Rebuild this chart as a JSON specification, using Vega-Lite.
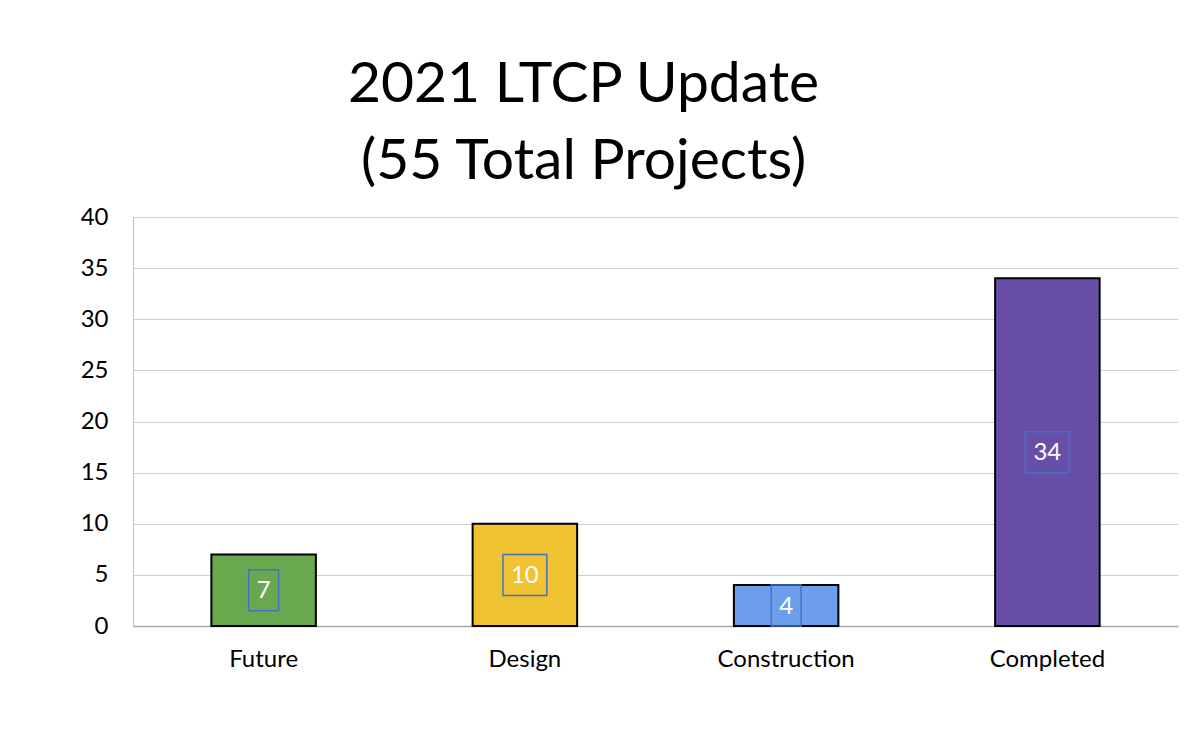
{
  "$schema": "https://vega.github.io/schema/vega-lite/v6.json",
  "width": 1045,
  "height": 409,
  "autosize": {"type": "none"},
  "padding": {"left": 133, "top": 217, "right": 20, "bottom": 118},
  "background": "white",
  "title": {
    "text": ["2021 LTCP Update", "(55 Total Projects)"],
    "font": "Lato",
    "fontSize": 57,
    "fontWeight": "normal",
    "color": "#000000",
    "lineHeight": 77,
    "anchor": "middle",
    "dx": -72,
    "offset": 14
  },
  "data": {
    "values": [
      {"status": "Future", "projects": 7},
      {"status": "Design", "projects": 10},
      {"status": "Construction", "projects": 4},
      {"status": "Completed", "projects": 34}
    ]
  },
  "transform": [{"calculate": "datum.projects / 2", "as": "mid"}],
  "encoding": {
    "x": {
      "field": "status",
      "type": "nominal",
      "sort": null,
      "scale": {"paddingInner": 0.6, "paddingOuter": 0.3},
      "axis": {
        "title": null,
        "labelAngle": 0,
        "labelFont": "Lato",
        "labelFontSize": 24,
        "labelColor": "#000000",
        "labelPadding": 21,
        "ticks": false,
        "domainColor": "#a6a6a6",
        "domainWidth": 1.5,
        "grid": false
      }
    }
  },
  "layer": [
    {
      "mark": {"type": "bar", "stroke": "#000000", "strokeWidth": 2},
      "encoding": {
        "y": {
          "field": "projects",
          "type": "quantitative",
          "scale": {"domain": [0, 40]},
          "axis": {
            "title": null,
            "values": [0, 5, 10, 15, 20, 25, 30, 35, 40],
            "labelFont": "Lato",
            "labelFontSize": 24,
            "labelColor": "#000000",
            "labelPadding": 25,
            "ticks": false,
            "domain": true,
            "domainColor": "#bfbfbf",
            "domainWidth": 1,
            "gridColor": "#d0d0d0",
            "gridWidth": 1
          }
        },
        "color": {
          "field": "status",
          "type": "nominal",
          "legend": null,
          "scale": {
            "domain": ["Future", "Design", "Construction", "Completed"],
            "range": ["#6aa84f", "#f1c232", "#6d9eeb", "#674ea7"]
          }
        }
      }
    },
    {
      "mark": {"type": "point", "filled": false, "size": 1681, "stroke": "#4472c4", "strokeWidth": 1.5, "opacity": 1},
      "encoding": {
        "y": {"field": "mid", "type": "quantitative"},
        "shape": {
          "field": "status",
          "type": "nominal",
          "legend": null,
          "scale": {
            "domain": ["Future", "Design", "Construction", "Completed"],
            "range": [
              "M-0.73,-1H0.73V1H-0.73Z",
              "M-1.07,-1H1.07V1H-1.07Z",
              "M-0.73,-1H0.73V1H-0.73Z",
              "M-1.07,-1H1.07V1H-1.07Z"
            ]
          }
        }
      }
    },
    {
      "mark": {"type": "text", "font": "Lato", "fontSize": 24, "color": "#ffffff", "baseline": "middle", "align": "center", "dy": 1},
      "encoding": {
        "y": {"field": "mid", "type": "quantitative"},
        "text": {"field": "projects", "type": "quantitative"}
      }
    }
  ],
  "config": {
    "view": {"stroke": null}
  }
}
